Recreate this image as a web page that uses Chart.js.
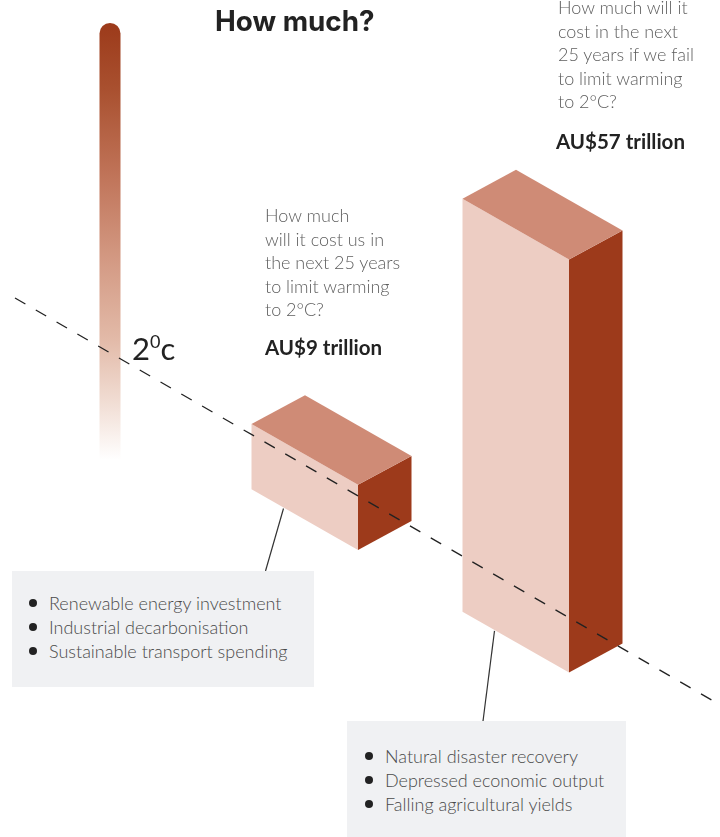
<!DOCTYPE html>
<html>
<head>
<meta charset="utf-8">
<script src="https://cdn.jsdelivr.net/npm/chart.js@4.4.1/dist/chart.umd.min.js"></script>
<style>
body { margin: 0; background: #fff; }
#wrap { position: relative; width: 720px; height: 837px; overflow: hidden; font-family: Lato, "Open Sans", sans-serif; }
#chart1 { position: absolute; left: 0; top: 0; }
.title { position: absolute; left: 215px; top: 4px; font: 700 27.8px Inter, sans-serif; color: #222; white-space: nowrap; }
.question { position: absolute; font-size: 18px; font-weight: 300; line-height: 23.6px; color: #5e5e5e; white-space: nowrap; }
.amount { position: absolute; font-weight: 700; font-size: 20.5px; line-height: 24px; color: #222; white-space: nowrap; }
.note { position: absolute; background: #f0f1f3; box-sizing: border-box; }
.note ul { list-style: none; margin: 0; padding: 0; }
.note li { position: relative; font-size: 18px; font-weight: 300; line-height: 24px; color: #4a4a4a; white-space: nowrap; }
.note li::before { content: ''; position: absolute; width: 8px; height: 8px; border-radius: 50%; background: #222; left: -20px; top: 8px; }
.temp { position: absolute; left: 132px; top: 330px; font-size: 31px; line-height: 36px; color: #222; white-space: nowrap; }
.temp span { font-size: 18px; position: relative; top: -12px; }
</style>
</head>
<body>
<div id="wrap">
  <canvas id="chart1" width="720" height="837"></canvas>
  <div class="title">How much?</div>
  <div class="temp">2<span>0</span>c</div>
</div>
<script>
// cost of each path over the next 25 years, AU$ trillion
var categories = ['Limit warming to 2°C', 'Fail to limit warming'];
var costTrillions = [9, 57];
var questions = [
    ['How much', 'will it cost us in', 'the next 25 years', 'to limit warming', 'to 2°C?'],
    ['How much will it', 'cost in the next', '25 years if we fail', 'to limit warming', 'to 2°C?']
];
var drivers = [
    ['Renewable energy investment', 'Industrial decarbonisation', 'Sustainable transport spending'],
    ['Natural disaster recovery', 'Depressed economic output', 'Falling agricultural yields']
];

// page layout (pixels)
var layout = {
    questionPos: [{left: 265, top: 204}, {left: 558, top: -4}],
    amountPos: [{left: 265, top: 335}, {left: 556, top: 129}],
    notePos: [
        {left: 12, top: 571, width: 302, height: 116, padLeft: 37, padTop: 20},
        {left: 347, top: 721, width: 279, height: 120, padLeft: 38, padTop: 23}
    ],
    leaderEndX: [265.5, 483],
    ground: {x: 358, y: 550, slope: 0.58},
    slopeLeft: 0.57,
    slopeRight: 0.54,
    boxLeft: 80, boxFront: 26.5, boxRight: 80,
    dash: {x1: 15, y1: 298, x2: 720, slope: 0.577}
};

var colors = {top: '#cf8b76', front: '#edcdc3', side: '#9d3a1b', dash: '#222', leader: '#333'};

var wrap = document.getElementById('wrap');
questions.forEach(function(lines, i) {
    var q = document.createElement('div');
    q.className = 'question';
    q.style.left = layout.questionPos[i].left + 'px';
    q.style.top = layout.questionPos[i].top + 'px';
    q.innerHTML = lines.join('<br>');
    wrap.appendChild(q);

    var a = document.createElement('div');
    a.className = 'amount';
    a.style.left = layout.amountPos[i].left + 'px';
    a.style.top = layout.amountPos[i].top + 'px';
    a.textContent = 'AU$' + costTrillions[i] + ' trillion';
    wrap.appendChild(a);

    var n = layout.notePos[i];
    var note = document.createElement('div');
    note.className = 'note';
    note.style.left = n.left + 'px';
    note.style.top = n.top + 'px';
    note.style.width = n.width + 'px';
    note.style.height = n.height + 'px';
    note.style.paddingLeft = n.padLeft + 'px';
    note.style.paddingTop = n.padTop + 'px';
    var ul = document.createElement('ul');
    drivers[i].forEach(function(d) {
        var li = document.createElement('li');
        li.textContent = d;
        ul.appendChild(li);
    });
    note.appendChild(ul);
    wrap.appendChild(note);
});

function groundY(x) {
    return layout.ground.y + layout.ground.slope * (x - layout.ground.x);
}

// draws each bar as an isometric block, plus the thermometer and 2°C line
var isoBoxes = {
    id: 'isoBoxes',
    beforeDatasetsDraw: function(chart) {
        var ctx = chart.ctx;
        var g = ctx.createLinearGradient(0, 23, 0, 460);
        g.addColorStop(0, '#9c3a1a');
        g.addColorStop(0.15, '#a9502f');
        g.addColorStop(0.35, '#c07459');
        g.addColorStop(0.55, '#d49b85');
        g.addColorStop(0.72, '#e2b9a7');
        g.addColorStop(0.86, '#f0dbd1');
        g.addColorStop(1, '#ffffff');
        ctx.save();
        ctx.fillStyle = g;
        ctx.beginPath();
        ctx.moveTo(99.5, 460);
        ctx.lineTo(99.5, 33.5);
        ctx.arc(110, 33.5, 10.5, Math.PI, 0);
        ctx.lineTo(120.5, 460);
        ctx.closePath();
        ctx.fill();
        ctx.restore();
    },
    afterDatasetsDraw: function(chart) {
        var ctx = chart.ctx;
        var meta = chart.getDatasetMeta(0);
        ctx.save();
        meta.data.forEach(function(bar, i) {
            var h = bar.base - bar.y;
            var fx = bar.x + layout.boxFront;
            var lx = bar.x - layout.boxLeft;
            var rx = bar.x + layout.boxRight;
            var fy = groundY(fx);
            var ly = fy - layout.slopeLeft * (fx - lx);
            var ry = fy - layout.slopeRight * (rx - fx);
            var by = ly - layout.slopeRight * (rx - fx);
            var bx = lx + (rx - fx);

            // front face
            ctx.fillStyle = colors.front;
            ctx.beginPath();
            ctx.moveTo(lx, ly); ctx.lineTo(fx, fy); ctx.lineTo(fx, fy - h); ctx.lineTo(lx, ly - h);
            ctx.closePath(); ctx.fill();
            // side face
            ctx.fillStyle = colors.side;
            ctx.beginPath();
            ctx.moveTo(fx, fy); ctx.lineTo(rx, ry); ctx.lineTo(rx, ry - h); ctx.lineTo(fx, fy - h);
            ctx.closePath(); ctx.fill();
            // top face
            ctx.fillStyle = colors.top;
            ctx.beginPath();
            ctx.moveTo(lx, ly - h); ctx.lineTo(fx, fy - h); ctx.lineTo(rx, ry - h); ctx.lineTo(bx, by - h);
            ctx.closePath(); ctx.fill();

            // leader down to the note
            var sx = lx + 32;
            ctx.strokeStyle = colors.leader;
            ctx.lineWidth = 1.2;
            ctx.beginPath();
            ctx.moveTo(sx, ly + layout.slopeLeft * 32 + 1);
            ctx.lineTo(layout.leaderEndX[i], layout.notePos[i].top);
            ctx.stroke();
        });

        // 2°C line
        var d = layout.dash;
        ctx.strokeStyle = colors.dash;
        ctx.lineWidth = 1.3;
        ctx.setLineDash([12, 12]);
        ctx.beginPath();
        ctx.moveTo(d.x1, d.y1);
        ctx.lineTo(d.x2, d.y1 + d.slope * (d.x2 - d.x1));
        ctx.stroke();
        ctx.restore();
    }
};

var ctx1 = document.getElementById('chart1');
var chart1 = new Chart(ctx1, {
    type: 'bar',
    data: {
        labels: categories,
        datasets: [{
            label: 'Cost (AU$ trillion)',
            data: costTrillions,
            backgroundColor: 'rgba(0,0,0,0)',
            borderWidth: 0
        }]
    },
    options: {
        responsive: false,
        animation: false,
        layout: {padding: {left: 226, right: 72, top: 20, bottom: 20}},
        plugins: {legend: {display: false}, tooltip: {enabled: false}},
        scales: {
            x: {display: false},
            y: {display: false, min: 0, max: 110}
        }
    },
    plugins: [isoBoxes]
});
</script>
</body>
</html>
